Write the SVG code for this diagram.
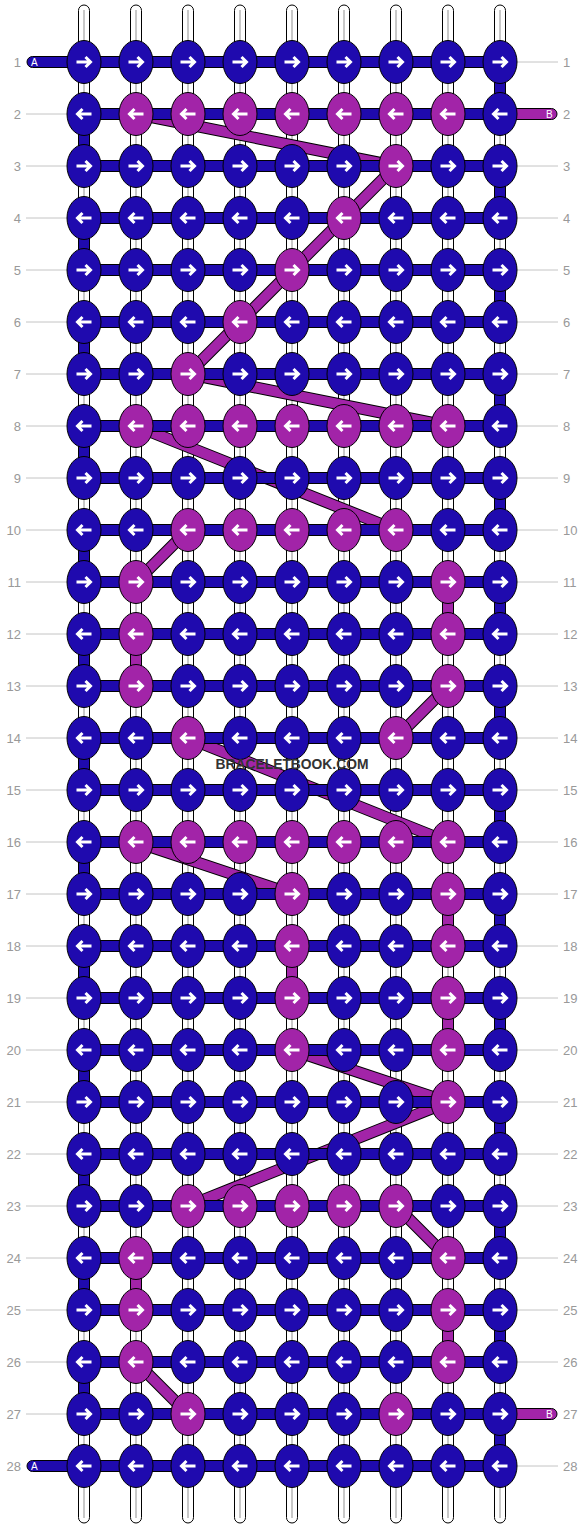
<svg xmlns="http://www.w3.org/2000/svg" xmlns:xlink="http://www.w3.org/1999/xlink" width="584" height="1528" viewBox="0 0 584 1528">
<style>
.str{fill:#fff;stroke:#000;stroke-width:1}
.strc{stroke:#c8c8c8;stroke-width:2}
.hb{fill:#1f0aae;stroke:#000;stroke-width:1}
.hp{fill:#a224a8;stroke:#000;stroke-width:1}
.dgo{stroke:#000;stroke-width:12;fill:none}
.dgi{stroke:#a224a8;stroke-width:10;fill:none}
.lbl{font-family:"Liberation Sans",Arial,sans-serif;font-size:13px;fill:#999}
.ll{stroke:#c4c4c4;stroke-width:1}
.tl{font-family:"Liberation Sans",Arial,sans-serif;font-size:10px;fill:#fff}
.wm{font-family:"Liberation Sans",Arial,sans-serif;font-size:15px;font-weight:bold;fill:#333}
.arw{fill:none;stroke:#fff;stroke-width:3}
</style>
<defs>
<path id="ar" class="arw" d="M-7.5,0H6M1.5,-5L6.5,0L1.5,5"/>
<path id="al" class="arw" d="M7.5,0H-6M-1.5,-5L-6.5,0L-1.5,5"/>
<g id="BR"><ellipse rx="17" ry="21.5" class="hb"/><use href="#ar"/></g>
<g id="BL"><ellipse rx="17" ry="21.5" class="hb"/><use href="#al"/></g>
<g id="PR"><ellipse rx="17" ry="21.5" class="hp"/><use href="#ar"/></g>
<g id="PL"><ellipse rx="17" ry="21.5" class="hp"/><use href="#al"/></g>
</defs>
<rect width="584" height="1528" fill="#fff"/>
<g id="labels">
<text class="lbl" x="21" y="66.5" text-anchor="end">1</text>
<g class="ll"><line x1="26" y1="114" x2="84" y2="114"/><line x1="26" y1="166" x2="84" y2="166"/><line x1="26" y1="218" x2="84" y2="218"/><line x1="26" y1="270" x2="84" y2="270"/><line x1="26" y1="322" x2="84" y2="322"/><line x1="26" y1="374" x2="84" y2="374"/><line x1="26" y1="426" x2="84" y2="426"/><line x1="26" y1="478" x2="84" y2="478"/><line x1="26" y1="530" x2="84" y2="530"/><line x1="26" y1="582" x2="84" y2="582"/><line x1="26" y1="634" x2="84" y2="634"/><line x1="26" y1="686" x2="84" y2="686"/><line x1="26" y1="738" x2="84" y2="738"/><line x1="26" y1="790" x2="84" y2="790"/><line x1="26" y1="842" x2="84" y2="842"/><line x1="26" y1="894" x2="84" y2="894"/><line x1="26" y1="946" x2="84" y2="946"/><line x1="26" y1="998" x2="84" y2="998"/><line x1="26" y1="1050" x2="84" y2="1050"/><line x1="26" y1="1102" x2="84" y2="1102"/><line x1="26" y1="1154" x2="84" y2="1154"/><line x1="26" y1="1206" x2="84" y2="1206"/><line x1="26" y1="1258" x2="84" y2="1258"/><line x1="26" y1="1310" x2="84" y2="1310"/><line x1="26" y1="1362" x2="84" y2="1362"/><line x1="26" y1="1414" x2="84" y2="1414"/>
<line x1="500" y1="62" x2="558" y2="62"/><line x1="500" y1="166" x2="558" y2="166"/><line x1="500" y1="218" x2="558" y2="218"/><line x1="500" y1="270" x2="558" y2="270"/><line x1="500" y1="322" x2="558" y2="322"/><line x1="500" y1="374" x2="558" y2="374"/><line x1="500" y1="426" x2="558" y2="426"/><line x1="500" y1="478" x2="558" y2="478"/><line x1="500" y1="530" x2="558" y2="530"/><line x1="500" y1="582" x2="558" y2="582"/><line x1="500" y1="634" x2="558" y2="634"/><line x1="500" y1="686" x2="558" y2="686"/><line x1="500" y1="738" x2="558" y2="738"/><line x1="500" y1="790" x2="558" y2="790"/><line x1="500" y1="842" x2="558" y2="842"/><line x1="500" y1="894" x2="558" y2="894"/><line x1="500" y1="946" x2="558" y2="946"/><line x1="500" y1="998" x2="558" y2="998"/><line x1="500" y1="1050" x2="558" y2="1050"/><line x1="500" y1="1102" x2="558" y2="1102"/><line x1="500" y1="1154" x2="558" y2="1154"/><line x1="500" y1="1206" x2="558" y2="1206"/><line x1="500" y1="1258" x2="558" y2="1258"/><line x1="500" y1="1310" x2="558" y2="1310"/><line x1="500" y1="1362" x2="558" y2="1362"/><line x1="500" y1="1466" x2="558" y2="1466"/></g>
<g text-anchor="end">
<text class="lbl" x="21" y="118.5">2</text><text class="lbl" x="21" y="170.5">3</text><text class="lbl" x="21" y="222.5">4</text><text class="lbl" x="21" y="274.5">5</text><text class="lbl" x="21" y="326.5">6</text><text class="lbl" x="21" y="378.5">7</text><text class="lbl" x="21" y="430.5">8</text><text class="lbl" x="21" y="482.5">9</text><text class="lbl" x="21" y="534.5">10</text><text class="lbl" x="21" y="586.5">11</text><text class="lbl" x="21" y="638.5">12</text><text class="lbl" x="21" y="690.5">13</text><text class="lbl" x="21" y="742.5">14</text><text class="lbl" x="21" y="794.5">15</text><text class="lbl" x="21" y="846.5">16</text><text class="lbl" x="21" y="898.5">17</text><text class="lbl" x="21" y="950.5">18</text><text class="lbl" x="21" y="1002.5">19</text><text class="lbl" x="21" y="1054.5">20</text><text class="lbl" x="21" y="1106.5">21</text><text class="lbl" x="21" y="1158.5">22</text><text class="lbl" x="21" y="1210.5">23</text><text class="lbl" x="21" y="1262.5">24</text><text class="lbl" x="21" y="1314.5">25</text><text class="lbl" x="21" y="1366.5">26</text><text class="lbl" x="21" y="1418.5">27</text><text class="lbl" x="21" y="1470.5">28</text>
</g>
<g>
<text class="lbl" x="563" y="66.5">1</text><text class="lbl" x="563" y="118.5">2</text><text class="lbl" x="563" y="170.5">3</text><text class="lbl" x="563" y="222.5">4</text><text class="lbl" x="563" y="274.5">5</text><text class="lbl" x="563" y="326.5">6</text><text class="lbl" x="563" y="378.5">7</text><text class="lbl" x="563" y="430.5">8</text><text class="lbl" x="563" y="482.5">9</text><text class="lbl" x="563" y="534.5">10</text><text class="lbl" x="563" y="586.5">11</text><text class="lbl" x="563" y="638.5">12</text><text class="lbl" x="563" y="690.5">13</text><text class="lbl" x="563" y="742.5">14</text><text class="lbl" x="563" y="794.5">15</text><text class="lbl" x="563" y="846.5">16</text><text class="lbl" x="563" y="898.5">17</text><text class="lbl" x="563" y="950.5">18</text><text class="lbl" x="563" y="1002.5">19</text><text class="lbl" x="563" y="1054.5">20</text><text class="lbl" x="563" y="1106.5">21</text><text class="lbl" x="563" y="1158.5">22</text><text class="lbl" x="563" y="1210.5">23</text><text class="lbl" x="563" y="1262.5">24</text><text class="lbl" x="563" y="1314.5">25</text><text class="lbl" x="563" y="1366.5">26</text><text class="lbl" x="563" y="1418.5">27</text><text class="lbl" x="563" y="1470.5">28</text>
</g>
</g>
<g id="strings">
<rect class="str" x="78.5" y="5" width="11" height="1518" rx="5.5"/><rect class="str" x="130.5" y="5" width="11" height="1518" rx="5.5"/><rect class="str" x="182.5" y="5" width="11" height="1518" rx="5.5"/><rect class="str" x="234.5" y="5" width="11" height="1518" rx="5.5"/><rect class="str" x="286.5" y="5" width="11" height="1518" rx="5.5"/><rect class="str" x="338.5" y="5" width="11" height="1518" rx="5.5"/><rect class="str" x="390.5" y="5" width="11" height="1518" rx="5.5"/><rect class="str" x="442.5" y="5" width="11" height="1518" rx="5.5"/><rect class="str" x="494.5" y="5" width="11" height="1518" rx="5.5"/>
<g class="strc"><line x1="84" y1="10" x2="84" y2="1518"/><line x1="136" y1="10" x2="136" y2="1518"/><line x1="188" y1="10" x2="188" y2="1518"/><line x1="240" y1="10" x2="240" y2="1518"/><line x1="292" y1="10" x2="292" y2="1518"/><line x1="344" y1="10" x2="344" y2="1518"/><line x1="396" y1="10" x2="396" y2="1518"/><line x1="448" y1="10" x2="448" y2="1518"/><line x1="500" y1="10" x2="500" y2="1518"/></g>
</g>
<g id="connectors">
<g id="diagonals">
<path class="dgo" d="M136,114L396,166L188,374L448,426M136,426L396,530M188,530L136,582M448,686L396,738M188,738L448,842M136,842L292,894M292,1050L448,1102L188,1206M396,1206L448,1258M136,1362L188,1414"/>
<path class="dgi" d="M136,114L396,166L188,374L448,426M136,426L396,530M188,530L136,582M448,686L396,738M188,738L448,842M136,842L292,894M292,1050L448,1102L188,1206M396,1206L448,1258M136,1362L188,1414"/>
</g>
<g id="rows">
<rect class="hb" x="27" y="56.5" width="62" height="11" rx="5.5"/>
<rect class="hb" x="27" y="1460.5" width="62" height="11" rx="5.5"/>
<rect class="hp" x="495" y="108.5" width="62" height="11" rx="5.5"/>
<rect class="hp" x="495" y="1408.5" width="62" height="11" rx="5.5"/>
<rect class="hb" x="84" y="56.5" width="416" height="11"/><rect class="hb" x="84" y="108.5" width="416" height="11"/><rect class="hb" x="84" y="160.5" width="416" height="11"/><rect class="hb" x="84" y="212.5" width="416" height="11"/><rect class="hb" x="84" y="264.5" width="416" height="11"/><rect class="hb" x="84" y="316.5" width="416" height="11"/><rect class="hb" x="84" y="368.5" width="416" height="11"/><rect class="hb" x="84" y="420.5" width="416" height="11"/><rect class="hb" x="84" y="472.5" width="416" height="11"/><rect class="hb" x="84" y="524.5" width="416" height="11"/><rect class="hb" x="84" y="576.5" width="416" height="11"/><rect class="hb" x="84" y="628.5" width="416" height="11"/><rect class="hb" x="84" y="680.5" width="416" height="11"/><rect class="hb" x="84" y="732.5" width="416" height="11"/><rect class="hb" x="84" y="784.5" width="416" height="11"/><rect class="hb" x="84" y="836.5" width="416" height="11"/><rect class="hb" x="84" y="888.5" width="416" height="11"/><rect class="hb" x="84" y="940.5" width="416" height="11"/><rect class="hb" x="84" y="992.5" width="416" height="11"/><rect class="hb" x="84" y="1044.5" width="416" height="11"/><rect class="hb" x="84" y="1096.5" width="416" height="11"/><rect class="hb" x="84" y="1148.5" width="416" height="11"/><rect class="hb" x="84" y="1200.5" width="416" height="11"/><rect class="hb" x="84" y="1252.5" width="416" height="11"/><rect class="hb" x="84" y="1304.5" width="416" height="11"/><rect class="hb" x="84" y="1356.5" width="416" height="11"/><rect class="hb" x="84" y="1408.5" width="416" height="11"/><rect class="hb" x="84" y="1460.5" width="416" height="11"/>
</g>
<g id="turns">
<rect class="hb" x="494.5" y="62" width="11" height="52"/><rect class="hb" x="494.5" y="166" width="11" height="52"/><rect class="hb" x="494.5" y="270" width="11" height="52"/><rect class="hb" x="494.5" y="374" width="11" height="52"/><rect class="hb" x="494.5" y="478" width="11" height="52"/><rect class="hb" x="494.5" y="582" width="11" height="52"/><rect class="hb" x="494.5" y="686" width="11" height="52"/><rect class="hb" x="494.5" y="790" width="11" height="52"/><rect class="hb" x="494.5" y="894" width="11" height="52"/><rect class="hb" x="494.5" y="998" width="11" height="52"/><rect class="hb" x="494.5" y="1102" width="11" height="52"/><rect class="hb" x="494.5" y="1206" width="11" height="52"/><rect class="hb" x="494.5" y="1310" width="11" height="52"/><rect class="hb" x="494.5" y="1414" width="11" height="52"/>
<rect class="hb" x="78.5" y="114" width="11" height="52"/><rect class="hb" x="78.5" y="218" width="11" height="52"/><rect class="hb" x="78.5" y="322" width="11" height="52"/><rect class="hb" x="78.5" y="426" width="11" height="52"/><rect class="hb" x="78.5" y="530" width="11" height="52"/><rect class="hb" x="78.5" y="634" width="11" height="52"/><rect class="hb" x="78.5" y="738" width="11" height="52"/><rect class="hb" x="78.5" y="842" width="11" height="52"/><rect class="hb" x="78.5" y="946" width="11" height="52"/><rect class="hb" x="78.5" y="1050" width="11" height="52"/><rect class="hb" x="78.5" y="1154" width="11" height="52"/><rect class="hb" x="78.5" y="1258" width="11" height="52"/><rect class="hb" x="78.5" y="1362" width="11" height="52"/>
<rect class="hp" x="442.5" y="582" width="11" height="52"/><rect class="hp" x="130.5" y="634" width="11" height="52"/><rect class="hp" x="442.5" y="894" width="11" height="52"/><rect class="hp" x="286.5" y="946" width="11" height="52"/><rect class="hp" x="442.5" y="998" width="11" height="52"/><rect class="hp" x="130.5" y="1258" width="11" height="52"/><rect class="hp" x="442.5" y="1310" width="11" height="52"/>
</g>
</g>
<g id="tails">
<text class="tl" x="31" y="65.5">A</text><text class="tl" x="31" y="1469.5">A</text>
<text class="tl" x="546" y="117.5">B</text><text class="tl" x="546" y="1417.5">B</text>
</g>
<g id="knots">
<g id="r1c1"><use href="#BR" x="84" y="62"/></g><g id="r1c2"><use href="#BR" x="136" y="62"/></g><g id="r1c3"><use href="#BR" x="188" y="62"/></g><g id="r1c4"><use href="#BR" x="240" y="62"/></g><g id="r1c5"><use href="#BR" x="292" y="62"/></g><g id="r1c6"><use href="#BR" x="344" y="62"/></g><g id="r1c7"><use href="#BR" x="396" y="62"/></g><g id="r1c8"><use href="#BR" x="448" y="62"/></g><g id="r1c9"><use href="#BR" x="500" y="62"/></g>
<g id="r2c1"><use href="#BL" x="84" y="114"/></g><g id="r2c2"><use href="#PL" x="136" y="114"/></g><g id="r2c3"><use href="#PL" x="188" y="114"/></g><g id="r2c4"><use href="#PL" x="240" y="114"/></g><g id="r2c5"><use href="#PL" x="292" y="114"/></g><g id="r2c6"><use href="#PL" x="344" y="114"/></g><g id="r2c7"><use href="#PL" x="396" y="114"/></g><g id="r2c8"><use href="#PL" x="448" y="114"/></g><g id="r2c9"><use href="#BL" x="500" y="114"/></g>
<g id="r3c1"><use href="#BR" x="84" y="166"/></g><g id="r3c2"><use href="#BR" x="136" y="166"/></g><g id="r3c3"><use href="#BR" x="188" y="166"/></g><g id="r3c4"><use href="#BR" x="240" y="166"/></g><g id="r3c5"><use href="#BR" x="292" y="166"/></g><g id="r3c6"><use href="#BR" x="344" y="166"/></g><g id="r3c7"><use href="#PR" x="396" y="166"/></g><g id="r3c8"><use href="#BR" x="448" y="166"/></g><g id="r3c9"><use href="#BR" x="500" y="166"/></g>
<g id="r4c1"><use href="#BL" x="84" y="218"/></g><g id="r4c2"><use href="#BL" x="136" y="218"/></g><g id="r4c3"><use href="#BL" x="188" y="218"/></g><g id="r4c4"><use href="#BL" x="240" y="218"/></g><g id="r4c5"><use href="#BL" x="292" y="218"/></g><g id="r4c6"><use href="#PL" x="344" y="218"/></g><g id="r4c7"><use href="#BL" x="396" y="218"/></g><g id="r4c8"><use href="#BL" x="448" y="218"/></g><g id="r4c9"><use href="#BL" x="500" y="218"/></g>
<g id="r5c1"><use href="#BR" x="84" y="270"/></g><g id="r5c2"><use href="#BR" x="136" y="270"/></g><g id="r5c3"><use href="#BR" x="188" y="270"/></g><g id="r5c4"><use href="#BR" x="240" y="270"/></g><g id="r5c5"><use href="#PR" x="292" y="270"/></g><g id="r5c6"><use href="#BR" x="344" y="270"/></g><g id="r5c7"><use href="#BR" x="396" y="270"/></g><g id="r5c8"><use href="#BR" x="448" y="270"/></g><g id="r5c9"><use href="#BR" x="500" y="270"/></g>
<g id="r6c1"><use href="#BL" x="84" y="322"/></g><g id="r6c2"><use href="#BL" x="136" y="322"/></g><g id="r6c3"><use href="#BL" x="188" y="322"/></g><g id="r6c4"><use href="#PL" x="240" y="322"/></g><g id="r6c5"><use href="#BL" x="292" y="322"/></g><g id="r6c6"><use href="#BL" x="344" y="322"/></g><g id="r6c7"><use href="#BL" x="396" y="322"/></g><g id="r6c8"><use href="#BL" x="448" y="322"/></g><g id="r6c9"><use href="#BL" x="500" y="322"/></g>
<g id="r7c1"><use href="#BR" x="84" y="374"/></g><g id="r7c2"><use href="#BR" x="136" y="374"/></g><g id="r7c3"><use href="#PR" x="188" y="374"/></g><g id="r7c4"><use href="#BR" x="240" y="374"/></g><g id="r7c5"><use href="#BR" x="292" y="374"/></g><g id="r7c6"><use href="#BR" x="344" y="374"/></g><g id="r7c7"><use href="#BR" x="396" y="374"/></g><g id="r7c8"><use href="#BR" x="448" y="374"/></g><g id="r7c9"><use href="#BR" x="500" y="374"/></g>
<g id="r8c1"><use href="#BL" x="84" y="426"/></g><g id="r8c2"><use href="#PL" x="136" y="426"/></g><g id="r8c3"><use href="#PL" x="188" y="426"/></g><g id="r8c4"><use href="#PL" x="240" y="426"/></g><g id="r8c5"><use href="#PL" x="292" y="426"/></g><g id="r8c6"><use href="#PL" x="344" y="426"/></g><g id="r8c7"><use href="#PL" x="396" y="426"/></g><g id="r8c8"><use href="#PL" x="448" y="426"/></g><g id="r8c9"><use href="#BL" x="500" y="426"/></g>
<g id="r9c1"><use href="#BR" x="84" y="478"/></g><g id="r9c2"><use href="#BR" x="136" y="478"/></g><g id="r9c3"><use href="#BR" x="188" y="478"/></g><g id="r9c4"><use href="#BR" x="240" y="478"/></g><g id="r9c5"><use href="#BR" x="292" y="478"/></g><g id="r9c6"><use href="#BR" x="344" y="478"/></g><g id="r9c7"><use href="#BR" x="396" y="478"/></g><g id="r9c8"><use href="#BR" x="448" y="478"/></g><g id="r9c9"><use href="#BR" x="500" y="478"/></g>
<g id="r10c1"><use href="#BL" x="84" y="530"/></g><g id="r10c2"><use href="#BL" x="136" y="530"/></g><g id="r10c3"><use href="#PL" x="188" y="530"/></g><g id="r10c4"><use href="#PL" x="240" y="530"/></g><g id="r10c5"><use href="#PL" x="292" y="530"/></g><g id="r10c6"><use href="#PL" x="344" y="530"/></g><g id="r10c7"><use href="#PL" x="396" y="530"/></g><g id="r10c8"><use href="#BL" x="448" y="530"/></g><g id="r10c9"><use href="#BL" x="500" y="530"/></g>
<g id="r11c1"><use href="#BR" x="84" y="582"/></g><g id="r11c2"><use href="#PR" x="136" y="582"/></g><g id="r11c3"><use href="#BR" x="188" y="582"/></g><g id="r11c4"><use href="#BR" x="240" y="582"/></g><g id="r11c5"><use href="#BR" x="292" y="582"/></g><g id="r11c6"><use href="#BR" x="344" y="582"/></g><g id="r11c7"><use href="#BR" x="396" y="582"/></g><g id="r11c8"><use href="#PR" x="448" y="582"/></g><g id="r11c9"><use href="#BR" x="500" y="582"/></g>
<g id="r12c1"><use href="#BL" x="84" y="634"/></g><g id="r12c2"><use href="#PL" x="136" y="634"/></g><g id="r12c3"><use href="#BL" x="188" y="634"/></g><g id="r12c4"><use href="#BL" x="240" y="634"/></g><g id="r12c5"><use href="#BL" x="292" y="634"/></g><g id="r12c6"><use href="#BL" x="344" y="634"/></g><g id="r12c7"><use href="#BL" x="396" y="634"/></g><g id="r12c8"><use href="#PL" x="448" y="634"/></g><g id="r12c9"><use href="#BL" x="500" y="634"/></g>
<g id="r13c1"><use href="#BR" x="84" y="686"/></g><g id="r13c2"><use href="#PR" x="136" y="686"/></g><g id="r13c3"><use href="#BR" x="188" y="686"/></g><g id="r13c4"><use href="#BR" x="240" y="686"/></g><g id="r13c5"><use href="#BR" x="292" y="686"/></g><g id="r13c6"><use href="#BR" x="344" y="686"/></g><g id="r13c7"><use href="#BR" x="396" y="686"/></g><g id="r13c8"><use href="#PR" x="448" y="686"/></g><g id="r13c9"><use href="#BR" x="500" y="686"/></g>
<g id="r14c1"><use href="#BL" x="84" y="738"/></g><g id="r14c2"><use href="#BL" x="136" y="738"/></g><g id="r14c3"><use href="#PL" x="188" y="738"/></g><g id="r14c4"><use href="#BL" x="240" y="738"/></g><g id="r14c5"><use href="#BL" x="292" y="738"/></g><g id="r14c6"><use href="#BL" x="344" y="738"/></g><g id="r14c7"><use href="#PL" x="396" y="738"/></g><g id="r14c8"><use href="#BL" x="448" y="738"/></g><g id="r14c9"><use href="#BL" x="500" y="738"/></g>
<g id="r15c1"><use href="#BR" x="84" y="790"/></g><g id="r15c2"><use href="#BR" x="136" y="790"/></g><g id="r15c3"><use href="#BR" x="188" y="790"/></g><g id="r15c4"><use href="#BR" x="240" y="790"/></g><g id="r15c5"><use href="#BR" x="292" y="790"/></g><g id="r15c6"><use href="#BR" x="344" y="790"/></g><g id="r15c7"><use href="#BR" x="396" y="790"/></g><g id="r15c8"><use href="#BR" x="448" y="790"/></g><g id="r15c9"><use href="#BR" x="500" y="790"/></g>
<g id="r16c1"><use href="#BL" x="84" y="842"/></g><g id="r16c2"><use href="#PL" x="136" y="842"/></g><g id="r16c3"><use href="#PL" x="188" y="842"/></g><g id="r16c4"><use href="#PL" x="240" y="842"/></g><g id="r16c5"><use href="#PL" x="292" y="842"/></g><g id="r16c6"><use href="#PL" x="344" y="842"/></g><g id="r16c7"><use href="#PL" x="396" y="842"/></g><g id="r16c8"><use href="#PL" x="448" y="842"/></g><g id="r16c9"><use href="#BL" x="500" y="842"/></g>
<g id="r17c1"><use href="#BR" x="84" y="894"/></g><g id="r17c2"><use href="#BR" x="136" y="894"/></g><g id="r17c3"><use href="#BR" x="188" y="894"/></g><g id="r17c4"><use href="#BR" x="240" y="894"/></g><g id="r17c5"><use href="#PR" x="292" y="894"/></g><g id="r17c6"><use href="#BR" x="344" y="894"/></g><g id="r17c7"><use href="#BR" x="396" y="894"/></g><g id="r17c8"><use href="#PR" x="448" y="894"/></g><g id="r17c9"><use href="#BR" x="500" y="894"/></g>
<g id="r18c1"><use href="#BL" x="84" y="946"/></g><g id="r18c2"><use href="#BL" x="136" y="946"/></g><g id="r18c3"><use href="#BL" x="188" y="946"/></g><g id="r18c4"><use href="#BL" x="240" y="946"/></g><g id="r18c5"><use href="#PL" x="292" y="946"/></g><g id="r18c6"><use href="#BL" x="344" y="946"/></g><g id="r18c7"><use href="#BL" x="396" y="946"/></g><g id="r18c8"><use href="#PL" x="448" y="946"/></g><g id="r18c9"><use href="#BL" x="500" y="946"/></g>
<g id="r19c1"><use href="#BR" x="84" y="998"/></g><g id="r19c2"><use href="#BR" x="136" y="998"/></g><g id="r19c3"><use href="#BR" x="188" y="998"/></g><g id="r19c4"><use href="#BR" x="240" y="998"/></g><g id="r19c5"><use href="#PR" x="292" y="998"/></g><g id="r19c6"><use href="#BR" x="344" y="998"/></g><g id="r19c7"><use href="#BR" x="396" y="998"/></g><g id="r19c8"><use href="#PR" x="448" y="998"/></g><g id="r19c9"><use href="#BR" x="500" y="998"/></g>
<g id="r20c1"><use href="#BL" x="84" y="1050"/></g><g id="r20c2"><use href="#BL" x="136" y="1050"/></g><g id="r20c3"><use href="#BL" x="188" y="1050"/></g><g id="r20c4"><use href="#BL" x="240" y="1050"/></g><g id="r20c5"><use href="#PL" x="292" y="1050"/></g><g id="r20c6"><use href="#BL" x="344" y="1050"/></g><g id="r20c7"><use href="#BL" x="396" y="1050"/></g><g id="r20c8"><use href="#PL" x="448" y="1050"/></g><g id="r20c9"><use href="#BL" x="500" y="1050"/></g>
<g id="r21c1"><use href="#BR" x="84" y="1102"/></g><g id="r21c2"><use href="#BR" x="136" y="1102"/></g><g id="r21c3"><use href="#BR" x="188" y="1102"/></g><g id="r21c4"><use href="#BR" x="240" y="1102"/></g><g id="r21c5"><use href="#BR" x="292" y="1102"/></g><g id="r21c6"><use href="#BR" x="344" y="1102"/></g><g id="r21c7"><use href="#BR" x="396" y="1102"/></g><g id="r21c8"><use href="#PR" x="448" y="1102"/></g><g id="r21c9"><use href="#BR" x="500" y="1102"/></g>
<g id="r22c1"><use href="#BL" x="84" y="1154"/></g><g id="r22c2"><use href="#BL" x="136" y="1154"/></g><g id="r22c3"><use href="#BL" x="188" y="1154"/></g><g id="r22c4"><use href="#BL" x="240" y="1154"/></g><g id="r22c5"><use href="#BL" x="292" y="1154"/></g><g id="r22c6"><use href="#BL" x="344" y="1154"/></g><g id="r22c7"><use href="#BL" x="396" y="1154"/></g><g id="r22c8"><use href="#BL" x="448" y="1154"/></g><g id="r22c9"><use href="#BL" x="500" y="1154"/></g>
<g id="r23c1"><use href="#BR" x="84" y="1206"/></g><g id="r23c2"><use href="#BR" x="136" y="1206"/></g><g id="r23c3"><use href="#PR" x="188" y="1206"/></g><g id="r23c4"><use href="#PR" x="240" y="1206"/></g><g id="r23c5"><use href="#PR" x="292" y="1206"/></g><g id="r23c6"><use href="#PR" x="344" y="1206"/></g><g id="r23c7"><use href="#PR" x="396" y="1206"/></g><g id="r23c8"><use href="#BR" x="448" y="1206"/></g><g id="r23c9"><use href="#BR" x="500" y="1206"/></g>
<g id="r24c1"><use href="#BL" x="84" y="1258"/></g><g id="r24c2"><use href="#PL" x="136" y="1258"/></g><g id="r24c3"><use href="#BL" x="188" y="1258"/></g><g id="r24c4"><use href="#BL" x="240" y="1258"/></g><g id="r24c5"><use href="#BL" x="292" y="1258"/></g><g id="r24c6"><use href="#BL" x="344" y="1258"/></g><g id="r24c7"><use href="#BL" x="396" y="1258"/></g><g id="r24c8"><use href="#PL" x="448" y="1258"/></g><g id="r24c9"><use href="#BL" x="500" y="1258"/></g>
<g id="r25c1"><use href="#BR" x="84" y="1310"/></g><g id="r25c2"><use href="#PR" x="136" y="1310"/></g><g id="r25c3"><use href="#BR" x="188" y="1310"/></g><g id="r25c4"><use href="#BR" x="240" y="1310"/></g><g id="r25c5"><use href="#BR" x="292" y="1310"/></g><g id="r25c6"><use href="#BR" x="344" y="1310"/></g><g id="r25c7"><use href="#BR" x="396" y="1310"/></g><g id="r25c8"><use href="#PR" x="448" y="1310"/></g><g id="r25c9"><use href="#BR" x="500" y="1310"/></g>
<g id="r26c1"><use href="#BL" x="84" y="1362"/></g><g id="r26c2"><use href="#PL" x="136" y="1362"/></g><g id="r26c3"><use href="#BL" x="188" y="1362"/></g><g id="r26c4"><use href="#BL" x="240" y="1362"/></g><g id="r26c5"><use href="#BL" x="292" y="1362"/></g><g id="r26c6"><use href="#BL" x="344" y="1362"/></g><g id="r26c7"><use href="#BL" x="396" y="1362"/></g><g id="r26c8"><use href="#PL" x="448" y="1362"/></g><g id="r26c9"><use href="#BL" x="500" y="1362"/></g>
<g id="r27c1"><use href="#BR" x="84" y="1414"/></g><g id="r27c2"><use href="#BR" x="136" y="1414"/></g><g id="r27c3"><use href="#PR" x="188" y="1414"/></g><g id="r27c4"><use href="#BR" x="240" y="1414"/></g><g id="r27c5"><use href="#BR" x="292" y="1414"/></g><g id="r27c6"><use href="#BR" x="344" y="1414"/></g><g id="r27c7"><use href="#PR" x="396" y="1414"/></g><g id="r27c8"><use href="#BR" x="448" y="1414"/></g><g id="r27c9"><use href="#BR" x="500" y="1414"/></g>
<g id="r28c1"><use href="#BL" x="84" y="1466"/></g><g id="r28c2"><use href="#BL" x="136" y="1466"/></g><g id="r28c3"><use href="#BL" x="188" y="1466"/></g><g id="r28c4"><use href="#BL" x="240" y="1466"/></g><g id="r28c5"><use href="#BL" x="292" y="1466"/></g><g id="r28c6"><use href="#BL" x="344" y="1466"/></g><g id="r28c7"><use href="#BL" x="396" y="1466"/></g><g id="r28c8"><use href="#BL" x="448" y="1466"/></g><g id="r28c9"><use href="#BL" x="500" y="1466"/></g>
</g>
<text class="wm" x="292" y="769" text-anchor="middle" textLength="153" lengthAdjust="spacingAndGlyphs">BRACELETBOOK.COM</text>
</svg>
